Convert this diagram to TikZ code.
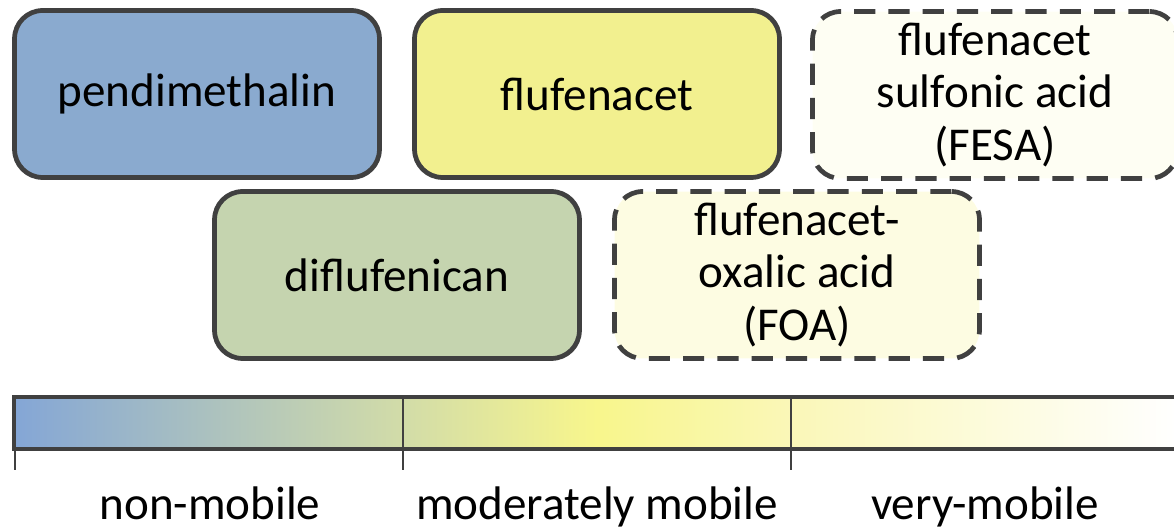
\documentclass[tikz,border=0pt]{standalone}
\usepackage{fontspec}
\setmainfont{Carlito}
\definecolor{edgegray}{HTML}{404040}
\definecolor{pendiblue}{HTML}{8AAACF}
\definecolor{flufyellow}{HTML}{F2F08F}
\definecolor{diflugreen}{HTML}{C5D4AF}
\definecolor{foapale}{HTML}{FDFCE2}
\definecolor{fesapale}{HTML}{FEFEF3}
\definecolor{barblue}{HTML}{84A6D6}
\definecolor{barmid}{HTML}{D2DCA8}
\definecolor{baryellow}{HTML}{F8F68C}
\definecolor{barpale}{HTML}{FAF7B8}
\tikzset{
  compound/.style={draw=edgegray, line width=2.7pt, rounded corners=16pt,
    minimum width=7.3cm, minimum height=3.34cm, align=center,
    font=\fontsize{26.8}{30}\selectfont},
  metabolite/.style={compound, dash pattern=on 12pt off 7.5pt},
  barline/.style={draw=edgegray, line width=2.7pt},
  tickline/.style={draw=edgegray, line width=1.7pt},
  classlabel/.style={font=\fontsize{26.8}{30}\selectfont, inner sep=0pt,
    text depth=0pt, anchor=base}
}
\begin{document}
\begin{tikzpicture}[x=0.02cm, y=-0.02cm]
  \useasboundingbox (0,0) rectangle (1174,530);

  % substances, first row
  \node[compound, fill=pendiblue] (pendi) at (197,94) {pendimethalin};
  \node[compound, fill=flufyellow] (fluf) at (597,94) {flufenacet};
  \node[metabolite, fill=fesapale] (fesa) at (995,95) {flufenacet\\sulfonic acid\\(FESA)};

  % second row
  \node[compound, fill=diflugreen] (diflu) at (397,275) {diflufenican};
  \node[metabolite, fill=foapale] (foa) at (797,275) {flufenacet-\\oxalic acid\\(FOA)};

  % mobility bar
  \fill[left color=barblue, right color=barmid] (14,397) rectangle (403,449);
  \fill[left color=barmid, right color=barpale, middle color=baryellow] (403,397) rectangle (791,449);
  \fill[left color=barpale, right color=white] (791,397) rectangle (1180,449);
  \draw[barline] (1180,397) -- (14,397) -- (14,449) -- (1180,449);
  \foreach \x in {403,791}
    \draw[tickline] (\x,397) -- (\x,449);
  \foreach \x in {15,403,791}
    \draw[tickline] (\x,449) -- (\x,470);

  % classes
  \node[classlabel] (nonmob) at (210,520) {non-mobile};
  \node[classlabel] (modmob) at (597,520) {moderately mobile};
  \node[classlabel] (verymob) at (985,520) {very-mobile};
\end{tikzpicture}
\end{document}
